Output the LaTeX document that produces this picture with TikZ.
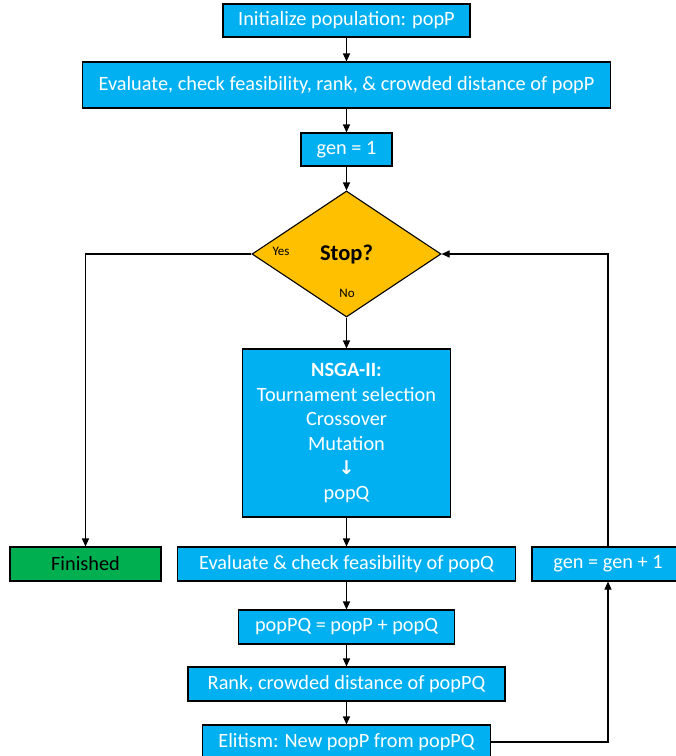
\documentclass[tikz,border=0pt]{standalone}
\usepackage{fontspec}
\setmainfont{Carlito}
\newfontfamily\arrowfont{DejaVu Sans}
\usetikzlibrary{shapes.geometric,arrows.meta}
\definecolor{boxblue}{HTML}{00B0F0}
\definecolor{stopyellow}{HTML}{FFC000}
\definecolor{fingreen}{HTML}{00B050}
\begin{document}
\begin{tikzpicture}[x=1pt,y=-1pt,
  bx/.style={draw=black, line width=1.1pt, fill=boxblue, text=white,
    font=\fontsize{20.3}{24}\selectfont, inner sep=0pt, align=center},
  arr/.style={-{Triangle[length=8pt,width=7pt]}, line width=1.1pt},
  lbl/.style={font=\fontsize{13}{15}\selectfont, inner sep=0pt}]
\useasboundingbox (0,0) rectangle (676,756);
\node[bx, minimum width=247pt, minimum height=33pt] (init) at (346.5,20.5) {Initialize population: popP};
\node[bx, minimum width=528pt, minimum height=46pt] (eval) at (346.5,85) {Evaluate, check feasibility, rank, \& crowded distance of popP};
\node[bx, minimum width=91pt, minimum height=33pt] (gen1) at (346.5,149.5) {gen = 1};
\node[diamond, draw=black, line width=1.1pt, fill=stopyellow, inner sep=0pt,
  minimum width=189pt, minimum height=126pt, font=\fontsize{22.5}{26}\selectfont\bfseries] (stop) at (346.5,254) {Stop?};
\node[lbl] (yes) at (281,251) {Yes};
\node[lbl] (no) at (347,293) {No};
\node[bx, minimum width=208pt, minimum height=168pt, font=\fontsize{20.3}{24.5}\selectfont] (nsga) at (346.5,433)
  {\textbf{NSGA-II:}\\Tournament selection\\Crossover\\Mutation\\{\arrowfont\bfseries\fontsize{19}{24.5}\selectfont ↓}\\popQ};
\node[bx, fill=fingreen, text=black, minimum width=151pt, minimum height=34pt] (fin) at (85.5,564) {Finished};
\node[bx, minimum width=338pt, minimum height=34pt] (evq) at (346.5,564) {Evaluate \& check feasibility of popQ};
\node[bx, minimum width=152pt, minimum height=34pt] (gp1) at (608,564) {gen = gen + 1};
\node[bx, minimum width=216pt, minimum height=34pt] (ppq) at (346.5,627) {popPQ = popP + popQ};
\node[bx, minimum width=317pt, minimum height=34pt] (rank) at (346.5,684) {Rank, crowded distance of popPQ};
\node[bx, minimum width=288pt, minimum height=34pt] (eli) at (346.5,742) {Elitism: New popP from popPQ};
\draw[arr] (init) -- (eval);
\draw[arr] (eval) -- (gen1);
\draw[arr] (gen1) -- (stop);
\draw[arr] (stop) -- (nsga);
\draw[arr] (nsga) -- (evq);
\draw[arr] (evq) -- (ppq);
\draw[arr] (ppq) -- (rank);
\draw[arr] (rank) -- (eli);
\draw[arr] (stop.west) -| (fin.north);
\draw[arr] (eli.east) -| (gp1.south);
\draw[arr] (gp1.north) |- (stop.east);
\end{tikzpicture}
\end{document}
